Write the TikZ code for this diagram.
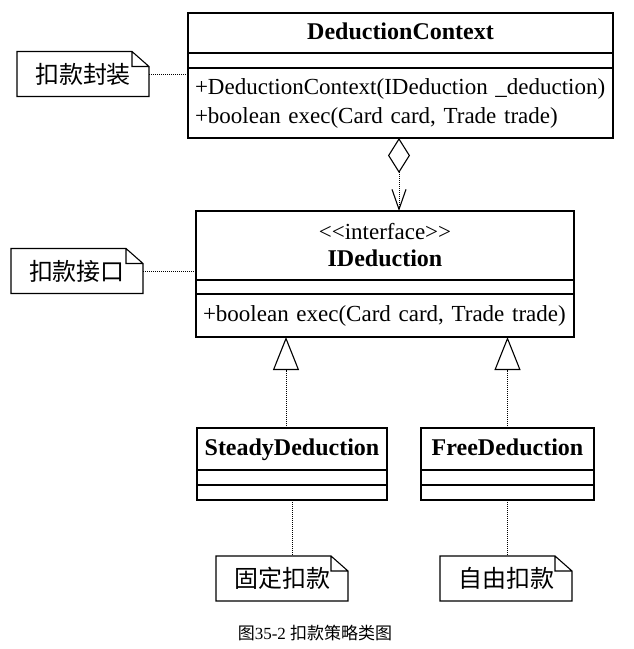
\documentclass[tikz,border=0pt]{standalone}
\usepackage{fontspec}
\setmainfont{Liberation Serif}
\newfontfamily\cjk{Noto Sans CJK SC}
\usetikzlibrary{positioning,arrows.meta}

\tikzset{
  cls/.style={draw, line width=1.3pt, inner sep=0pt, outer sep=0pt,
    font=\fontsize{23}{29}\selectfont},
  title/.style={cls, text height=17pt, text depth=5pt,
    font=\bfseries\fontsize{24}{27}\selectfont},
  note/.style={inner sep=0pt, outer sep=0pt, minimum width=132pt,
    minimum height=45pt, font=\cjk\fontsize{24}{26}\selectfont},
  link/.style={densely dotted, line width=1pt},
}

\begin{document}
\begin{tikzpicture}[x=1pt,y=-1pt]
  \useasboundingbox (0,0) rectangle (634,649);

  % DeductionContext
  \node[title, minimum width=425pt, minimum height=40pt] (dct) at (400.5,33) {DeductionContext};
  \node[cls, minimum width=425pt, minimum height=15pt, below=0pt of dct] (dca) {};
  \node[cls, minimum width=425pt, minimum height=70pt, text width=411pt, align=left,
    below=0pt of dca] (dcm) {+DeductionContext(IDeduction \_deduction)\\+boolean exec(Card card, Trade trade)};

  % IDeduction
  \node[cls, minimum width=378pt, minimum height=69pt, align=center,
    font=\fontsize{23}{27}\selectfont] (idt) at (385,245.5)
    {<{}<interface>{}>\\{\bfseries\fontsize{24}{27}\selectfont IDeduction}};
  \node[cls, minimum width=378pt, minimum height=14pt, below=0pt of idt] (ida) {};
  \node[cls, minimum width=378pt, minimum height=43pt, text width=364pt, align=left,
    below=0pt of ida] (idm) {+boolean exec(Card card, Trade trade)};

  % SteadyDeduction
  \node[title, minimum width=190pt, minimum height=42pt] (sdt) at (292,449) {SteadyDeduction};
  \node[cls, minimum width=190pt, minimum height=15pt, below=0pt of sdt] (sda) {};
  \node[cls, minimum width=190pt, minimum height=15pt, below=0pt of sda] (sdm) {};

  % FreeDeduction
  \node[title, minimum width=173pt, minimum height=42pt] (fdt) at (507.5,449) {FreeDeduction};
  \node[cls, minimum width=173pt, minimum height=15pt, below=0pt of fdt] (fda) {};
  \node[cls, minimum width=173pt, minimum height=15pt, below=0pt of fda] (fdm) {};

  % notes
  \node[note] (n1) at (83,74) {扣款封装};
  \node[note] (n2) at (77,271) {扣款接口};
  \node[note] (n3) at (282,578.5) {固定扣款};
  \node[note] (n4) at (506,578.5) {自由扣款};
  \foreach \n in {n1,n2,n3,n4}
    \draw[line width=1.1pt] (\n.south west) -- (\n.north west) -- ([xshift=-17pt]\n.north east)
      -- ([yshift=-15pt]\n.north east) -- (\n.south east) -- cycle
      ([xshift=-17pt]\n.north east) |- ([yshift=-15pt]\n.north east);

  % links
  \draw[link] (n1) -- (n1 -| dcm.west);
  \draw[link] (n2) -- (n2 -| idt.west);
  \draw[link] (sdm.south) -- (sdm.south |- n3.north);
  \draw[link] (fdm.south) -- (fdm.south |- n4.north);

  % aggregation
  \draw[link, {Diamond[open,length=35pt,width=22pt,line width=1.1pt]}-{Straight Barb[length=20pt,width=14pt,line width=1.1pt]}]
    ([xshift=-1.5pt]dcm.south) -- ([xshift=-1.5pt]dcm.south |- idt.north);

  % realization
  \draw[link, -{Triangle[open,length=33pt,width=26pt,line width=1.1pt]}]
    ([xshift=-6pt]sdt.north) -- ([xshift=-6pt]sdt.north |- idm.south);
  \draw[link, -{Triangle[open,length=33pt,width=26pt,line width=1.1pt]}]
    (fdt.north) -- (fdt.north |- idm.south);

  % caption
  \node[font=\fontsize{17}{20}\selectfont] (cap) at (315,633) {{\cjk 图}35-2 {\cjk 扣款策略类图}};
\end{tikzpicture}
\end{document}
